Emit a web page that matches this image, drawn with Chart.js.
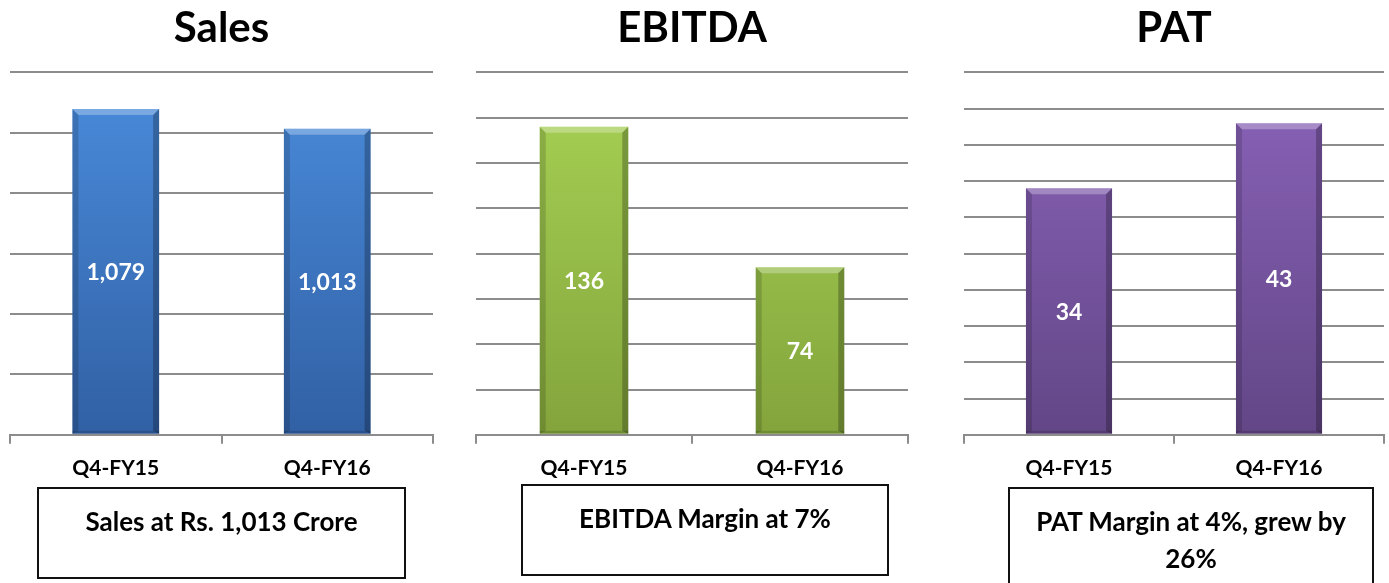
<!DOCTYPE html>
<html>
<head>
<meta charset="utf-8">
<script src="https://cdn.jsdelivr.net/npm/chart.js@4.4.1/dist/chart.umd.min.js"></script>
<style>
  body { margin:0; background:#fff; width:1389px; height:583px; overflow:hidden; position:relative; font-family:Lato, "Open Sans", sans-serif; }
  .wrap { position:absolute; top:0; height:495px; }
  .note { position:absolute; border:2px solid #111; box-sizing:border-box; text-align:center; font-weight:bold; font-size:26px; line-height:37px; color:#000; padding-top:14px; }
</style>
</head>
<body>
<div class="wrap" style="left:0;width:440px"><canvas id="salesChart"></canvas></div>
<div class="wrap" style="left:460px;width:460px"><canvas id="ebitdaChart"></canvas></div>
<div class="wrap" style="left:940px;width:449px"><canvas id="patChart"></canvas></div>

<div class="note" style="left:37px;top:487px;width:369px;height:92px">Sales at Rs. 1,013 Crore</div>
<div class="note" style="left:521px;top:484px;width:368px;height:92px">EBITDA Margin at 7%</div>
<div class="note" style="left:1008px;top:487px;width:366px;height:100px">PAT Margin at 4%, grew by<br>26%</div>

<script>
// data
var quarters = ["Q4-FY15", "Q4-FY16"];
var salesValues = [1079, 1013];
var ebitdaValues = [136, 74];
var patValues = [34, 43];

// bar gradient colours, top -> bottom
var blueShades = ["#4a8cdc", "#3160a4"];
var greenShades = ["#a8d355", "#83a43c"];
var purpleShades = ["#8b63ba", "#624686"];

function gradFill(shades) {
  return function (ctx) {
    var area = ctx.chart.chartArea;
    if (!area) return shades[0];
    var g = ctx.chart.ctx.createLinearGradient(0, area.top, 0, area.bottom);
    g.addColorStop(0, shades[0]);
    g.addColorStop(1, shades[1]);
    return g;
  };
}

// bevel edges + value in the middle of each bar
var bevelPlugin = {
  id: 'bevel',
  afterDatasetsDraw: function (chart) {
    var c = chart.ctx;
    chart.getDatasetMeta(0).data.forEach(function (bar, i) {
      var l = bar.x - bar.width / 2, r = bar.x + bar.width / 2, t = bar.y, b = bar.base, e = 6;
      c.save();
      c.fillStyle = 'rgba(255,255,255,0.28)';
      c.beginPath(); c.moveTo(l, t); c.lineTo(r, t); c.lineTo(r - e, t + e); c.lineTo(l + e, t + e); c.closePath(); c.fill();
      c.fillStyle = 'rgba(0,0,0,0.15)';
      c.beginPath(); c.moveTo(l, t); c.lineTo(l + e, t + e); c.lineTo(l + e, b - 3); c.lineTo(l, b); c.closePath(); c.fill();
      c.fillStyle = 'rgba(0,0,0,0.25)';
      c.beginPath(); c.moveTo(r, t); c.lineTo(r - e, t + e); c.lineTo(r - e, b - 3); c.lineTo(r, b); c.closePath(); c.fill();
      c.fillStyle = 'rgba(0,0,0,0.15)';
      c.fillRect(l, b - 3, bar.width, 3);
      var v = chart.data.datasets[0].data[i];
      c.fillStyle = '#fff';
      c.font = 'bold 23px Lato';
      c.textAlign = 'center';
      c.textBaseline = 'middle';
      c.fillText(v.toLocaleString('en-US'), bar.x, (t + b) / 2 + 1);
      c.restore();
    });
  }
};

function makeChart(id, title, values, shades, max, step, pad) {
  return new Chart(document.getElementById(id), {
    type: 'bar',
    data: {
      labels: quarters,
      datasets: [{
        data: values,
        backgroundColor: gradFill(shades),
        borderWidth: 0,
        barPercentage: 0.41,
        categoryPercentage: 1
      }]
    },
    options: {
      responsive: true,
      maintainAspectRatio: false,
      animation: false,
      layout: { padding: { left: pad[0], right: pad[1], top: 0, bottom: 2 } },
      plugins: {
        legend: { display: false },
        tooltip: { enabled: false },
        title: {
          display: true,
          text: title,
          color: '#000',
          font: { family: 'Lato', size: 42, weight: 'bold' },
          padding: { top: 3, bottom: 19 }
        }
      },
      scales: {
        x: {
          border: { color: '#8c8c8c', width: 2 },
          grid: { drawOnChartArea: false, tickLength: 9, color: '#8c8c8c', lineWidth: 2 },
          ticks: { color: '#000', padding: 12, font: { family: 'Lato', size: 21, weight: 'bold' } }
        },
        y: {
          min: 0, max: max,
          border: { display: false },
          grid: { color: '#8c8c8c', lineWidth: 2, drawTicks: false },
          ticks: { display: false, stepSize: step }
        }
      }
    },
    plugins: [bevelPlugin]
  });
}

makeChart('salesChart', 'Sales', salesValues, blueShades, 1200, 200, [10, 7]);
makeChart('ebitdaChart', 'EBITDA', ebitdaValues, greenShades, 160, 20, [16, 12]);
makeChart('patChart', 'PAT', patValues, purpleShades, 50, 5, [24, 5]);
</script>
</body>
</html>
